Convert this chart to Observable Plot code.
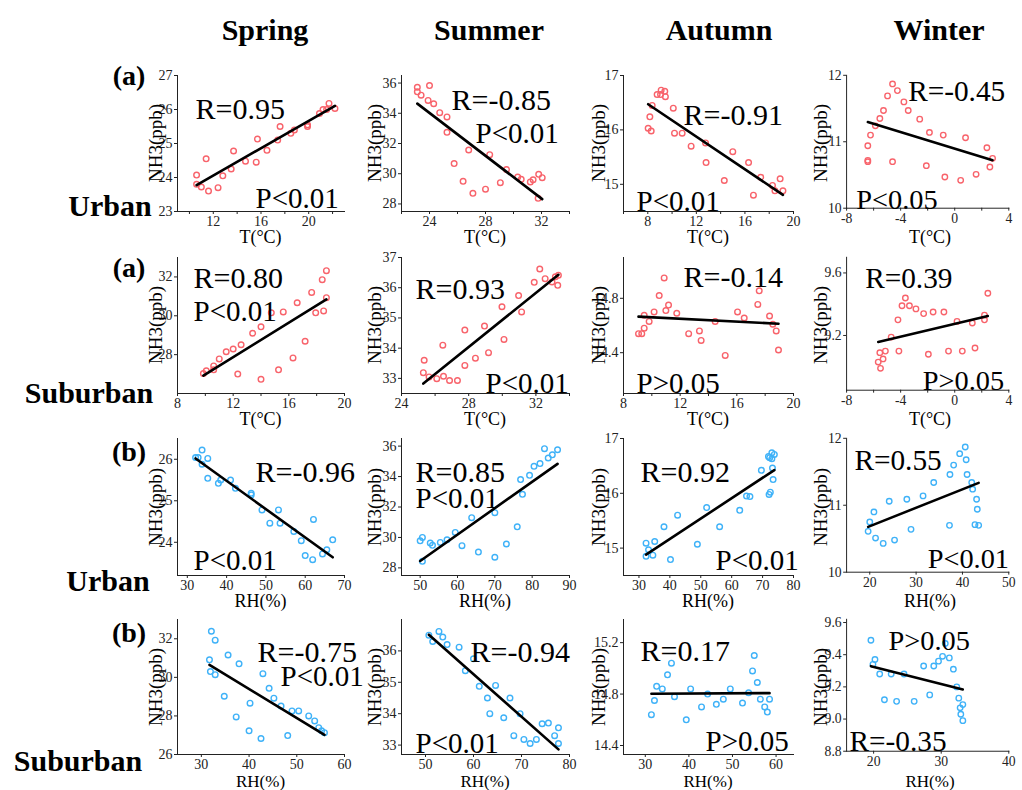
<!DOCTYPE html>
<html><head><meta charset="utf-8">
<script src="https://cdn.jsdelivr.net/npm/d3@7"></script>
<script src="https://cdn.jsdelivr.net/npm/@observablehq/plot@0.6"></script>
<style>
body{margin:0;background:#fff;overflow:hidden;}
#wrap{position:relative;width:1022px;height:790px;overflow:hidden;font-family:"Liberation Serif","Times New Roman",serif;color:#000;}
.lbl{position:absolute;white-space:nowrap;transform:translate(-50%,-50%);line-height:1;}
.plotbox{position:absolute;}
.plotbox svg, .plotbox svg g, .plotbox svg text{font-family:"Liberation Serif","Times New Roman",serif !important;}
</style></head><body><div id="wrap"></div>
<script>
// ---------- text ----------
const seasons = ["Spring", "Summer", "Autumn", "Winter"];
const rowTags = ["(a)", "(a)", "(b)", "(b)"];
const rowSites = ["Urban", "Suburban", "Urban", "Suburban"];
const rowVars = ["T(\u00B0C)", "T(\u00B0C)", "RH(%)", "RH(%)"];
const yLabel = "NH3(ppb)";
const rTexts = ["R=0.95","R=-0.85","R=-0.91","R=-0.45",
                "R=0.80","R=0.93","R=-0.14","R=0.39",
                "R=-0.96","R=0.85","R=0.92","R=0.55",
                "R=-0.75","R=-0.94","R=0.17","R=-0.35"];
const pTexts = ["P<0.01","P<0.01","P<0.01","P<0.05",
                "P<0.01","P<0.01","P>0.05","P>0.05",
                "P<0.01","P<0.01","P<0.01","P<0.01",
                "P<0.01","P<0.01","P>0.05","P>0.05"];

// ---------- data: Urban, T ----------
const uSprT_x = [10.6,10.6,11.0,11.4,11.6,12.4,12.8,13.5,13.7,14.7,15.6,15.7,16.5,17.4,17.6,18.5,18.8,19.9,19.9,20.9,21.2,21.7,22.2,21.5];
const uSprT_y = [24.07,23.8,23.72,24.55,23.6,23.7,24.05,24.25,24.78,24.48,24.45,25.13,24.8,25.1,25.5,25.3,25.4,25.5,25.55,25.88,26.0,26.18,26.03,26.0];
const uSumT_x = [23.13,23.13,23.4,24.0,23.9,24.3,24.73,25.25,25.25,25.76,26.4,26.8,27.1,28.0,28.3,29.06,29.5,30.3,30.55,31.2,31.4,31.8,32.05,31.76];
const uSumT_y = [35.72,35.42,35.2,35.83,34.85,34.63,34.04,33.76,32.74,30.67,29.5,31.57,28.7,28.98,31.26,29.41,30.28,29.78,29.63,29.46,29.6,29.96,29.74,28.37];
const uAutT_x = [8.36,8.17,8.03,8.28,8.77,9.1,9.05,9.4,9.45,10.1,10.2,10.83,11.57,12.76,12.8,14.3,15.0,16.3,16.7,17.3,18.27,18.47,18.9,19.13];
const uAutT_y = [16.45,16.24,16.03,15.98,16.65,16.73,16.65,16.71,16.61,16.4,15.94,15.94,15.7,15.76,15.4,15.07,15.6,15.4,14.8,15.13,14.98,14.88,15.1,14.88];
const uWinT_x = [-4.6,-4.24,-4.97,-3.76,-5.27,-3.44,-5.54,-2.59,-5.87,-6.23,-1.87,-0.85,0.8,-6.43,-6.43,-6.43,-4.6,-2.1,-0.73,0.44,1.58,2.38,2.6,2.8];
const uWinT_y = [11.87,11.77,11.69,11.6,11.47,11.47,11.35,11.34,11.24,11.1,11.14,11.1,11.06,10.94,10.72,10.7,10.7,10.64,10.47,10.42,10.51,10.91,10.62,10.75];
// ---------- data: Suburban, T ----------
const sSprT_x = [9.86,10.07,10.6,10.6,11.0,11.5,12.0,12.57,12.33,13.4,14.0,14.0,14.74,15.26,15.6,16.3,16.6,17.17,17.64,17.93,18.4,18.5,18.7,18.7];
const sSprT_y = [27.03,27.17,27.42,27.22,27.78,28.15,28.29,28.51,27.0,29.1,29.43,26.73,30.15,27.22,30.2,27.83,30.67,28.69,31.2,30.15,31.86,30.25,32.32,30.93];
const sSumT_x = [25.35,25.3,25.64,26.1,26.46,26.5,26.86,27.33,27.77,27.77,28.4,28.94,29.18,29.98,30.1,30.97,31.15,31.9,32.23,32.55,32.96,33.16,33.34,33.3];
const sSumT_y = [33.6,33.19,33.05,32.99,34.1,33.07,32.93,32.93,33.43,34.6,33.67,34.73,33.85,35.37,34.29,35.74,35.2,36.18,36.62,36.3,36.19,36.36,36.41,36.08];
const sAutT_x = [9.06,9.29,9.46,9.46,9.81,10.16,10.52,10.87,10.99,11.18,11.76,12.6,13.36,13.48,14.47,15.18,16.05,16.52,17.48,17.58,18.31,18.54,18.78,18.94];
const sAutT_y = [14.54,14.54,14.58,14.675,14.63,14.70,14.82,14.95,14.71,14.75,14.69,14.54,14.56,14.49,14.63,14.38,14.70,14.655,14.755,14.855,14.67,14.61,14.56,14.42];
const sWinT_x = [-5.66,-5.49,-5.54,-5.3,-5.13,-4.7,-4.2,-4.13,-3.9,-3.65,-3.35,-2.87,-2.3,-1.95,-1.6,-0.8,-0.46,0.17,0.56,1.3,1.5,2.2,2.2,2.45];
const sWinT_y = [9.03,8.99,9.09,9.05,9.10,9.19,9.30,9.10,9.39,9.44,9.39,9.37,9.34,9.08,9.35,9.35,9.10,9.29,9.10,9.28,9.12,9.33,9.30,9.47];
// ---------- data: Urban, RH ----------
const uSprRH_x = [32.1,32.75,33.75,33.75,35.2,35.2,37.9,38.5,41.0,42.25,46.25,46.25,49.0,51.0,53.2,53.6,57.1,59.0,60.0,62.1,61.9,64.4,65.5,67.0];
const uSprRH_y = [26.04,26.04,26.22,25.88,26.02,25.54,25.42,25.5,25.5,25.3,25.14,25.18,24.78,24.46,24.78,24.46,24.26,24.04,23.68,24.55,23.58,23.72,23.82,24.06];
const uSumRH_x = [50.0,50.6,50.6,52.7,53.3,55.4,57.2,59.4,61.2,63.8,65.6,70.0,70.0,73.1,76.0,76.9,77.4,79.3,80.5,82.1,83.3,84.3,85.4,86.8];
const uSumRH_y = [29.78,30.0,28.43,29.63,29.48,29.67,29.85,30.33,29.46,31.3,29.04,31.63,28.7,29.57,30.7,33.8,32.83,34.08,34.67,34.85,35.83,35.22,35.43,35.76];
const uAutRH_x = [32.3,32.3,33.1,34.5,35.1,38.1,40.2,42.5,48.9,51.9,56.1,62.6,64.8,65.9,69.6,71.9,72.3,73.0,73.0,73.8,73.2,73.4,72.5,72.1];
const uAutRH_y = [15.09,14.85,14.97,14.87,15.12,15.39,14.79,15.6,15.07,15.74,15.39,15.69,15.95,15.94,16.42,16.67,16.65,16.63,16.74,16.71,16.46,16.25,16.02,15.98];
const uWinRH_x = [19.65,20.0,20.9,21.25,22.9,24.2,25.35,28.0,28.9,31.5,33.8,37.2,37.3,38.1,39.4,40.6,40.8,41.0,42.0,42.2,42.7,43.05,43.2,43.5];
const uWinRH_y = [10.61,10.75,10.9,10.51,10.43,11.06,10.48,11.09,10.64,11.14,11.34,10.7,11.46,11.6,11.77,11.87,11.68,11.46,11.34,11.24,10.71,11.09,10.94,10.7];
// ---------- data: Suburban, RH ----------
const sSprRH_x = [32.1,32.9,31.7,31.9,32.9,35.6,34.8,37.3,37.9,40.2,40.0,42.5,42.9,44.2,45.2,46.7,48.1,49.0,50.4,52.5,53.75,54.6,55.2,55.8];
const sSprRH_y = [32.39,31.93,30.91,30.3,30.14,31.16,29.02,27.95,30.7,28.66,27.23,26.83,30.19,29.43,28.92,28.51,26.98,28.26,28.26,28.0,27.74,27.39,27.23,27.13];
const sSumRH_x = [50.7,51.5,52.8,53.6,54.5,57.0,58.3,60.0,61.2,62.9,63.4,64.6,66.3,67.6,68.4,69.7,70.5,71.8,73.1,74.3,75.6,76.9,77.7,77.7];
const sSumRH_y = [36.5,36.3,36.62,36.44,36.2,36.12,35.37,35.75,34.87,34.5,34.0,34.9,33.87,34.5,33.3,34.0,33.18,33.05,33.18,33.68,33.7,33.3,33.05,33.55];
const sAutRH_x = [31.4,32.1,32.6,33.9,35.1,36.0,36.7,39.4,40.4,42.9,44.3,46.3,47.9,49.5,52.3,53.7,54.6,55.0,55.7,56.4,57.4,58.0,58.5];
const sAutRH_y = [14.64,14.75,14.86,14.84,14.95,15.04,14.78,14.6,14.84,14.7,14.8,14.72,14.76,14.84,14.73,14.81,14.98,15.1,14.89,14.76,14.7,14.66,14.76];
const sWinRH_x = [19.6,19.9,20.2,20.9,21.6,22.6,23.4,24.5,26.0,27.4,28.3,28.9,29.6,30.2,30.6,31.2,31.8,32.3,32.6,32.8,32.9,33.2,33.2];
const sWinRH_y = [9.49,9.34,9.37,9.28,9.12,9.28,9.11,9.28,9.11,9.33,9.15,9.33,9.36,9.39,9.47,9.38,9.31,9.2,9.13,9.07,9.03,8.99,9.09];

// ---------- axis ranges and ticks ----------
const xDomains = [[9,23],[22,34],[6,20],[-8,4],
                  [8,20],[24,34],[8,20],[-8,4],
                  [27.5,70],[45,90],[25,80],[15,50],
                  [25,60],[45,80],[25,64],[16,40]];
const xTickLabels = [[12,16,20],[24,28,32],[8,12,16,20],[-8,-4,0,4],
                     [8,12,16,20],[24,28,32],[8,12,16,20],[-8,-4,0,4],
                     [30,40,50,60,70],[50,60,70,80,90],[30,40,50,60,70,80],[20,30,40,50],
                     [30,40,50,60],[50,60,70,80],[30,40,50,60],[20,30,40]];
const yDomains = [[23,27],[27.5,36.5],[14.5,17],[10,12],
                  [26,33],[32.5,37],[14.1,15.1],[8.85,9.7],
                  [23.2,26.5],[27.5,36.5],[14.5,17],[10,12],
                  [26,33],[32.7,37],[14.33,15.38],[8.8,9.62]];
const yTickLabels = [[23,24,25,26,27],[28,30,32,34,36],[15,16,17],[10,11,12],
                     [28,30,32],[33,34,35,36,37],[14.4,14.8],[9.2,9.6],
                     [24,25,26],[28,30,32,34,36],[15,16,17],[10,11,12],
                     [26,28,30,32],[33,34,35,36],[14.4,14.8,15.2],[8.8,9.0,9.2,9.4,9.6]];

const series = [
  [uSprT_x,uSprT_y],[uSumT_x,uSumT_y],[uAutT_x,uAutT_y],[uWinT_x,uWinT_y],
  [sSprT_x,sSprT_y],[sSumT_x,sSumT_y],[sAutT_x,sAutT_y],[sWinT_x,sWinT_y],
  [uSprRH_x,uSprRH_y],[uSumRH_x,uSumRH_y],[uAutRH_x,uAutRH_y],[uWinRH_x,uWinRH_y],
  [sSprRH_x,sSprRH_y],[sSumRH_x,sSumRH_y],[sAutRH_x,sAutRH_y],[sWinRH_x,sWinRH_y]
];

// ---------- layout (pixels) ----------
const colX = [[177,344],[401,569],[623,793],[847,1013]];
const rowY = [[75,211],[257,393],[438,575],[619,754]];
const rOffsets = [[18,22],[50,13],[60,28],[63,5],[16,9],[14,20],[60,8],[19,10],[78,22],[14,22],[17,22],[8,11],[80,21],[69,21],[17,20],[3,113]];
const pOffsets = [[78,112],[74,47],[13,115],[10,116],[16,43],[84,115],[13,115],[78,115],[16,111],[14,49],[92,111],[83,112],[103,46],[14,113],[82,111],[43,11]];
const yLabelX = [155,374,598,820];
const xLabelDY = [26, 26, 26, 27];
const RED = "#f8636b", BLUE = "#3fb2f8";
const ML = 40, MR = 14, MT = 8, MB = 24;

const wrap = document.getElementById("wrap");
function addLabel(text, x, y, css, rotate) {
  const d = document.createElement("div");
  d.className = "lbl";
  d.textContent = text;
  d.style.left = x + "px"; d.style.top = y + "px";
  Object.assign(d.style, css);
  if (rotate) d.style.transform = "translate(-50%,-50%) rotate(-90deg)";
  wrap.appendChild(d);
}

for (let i = 0; i < 16; i++) {
  const row = Math.floor(i / 4), col = i % 4;
  const [x0, x1] = colX[col], [y0, y1] = rowY[row];
  const w = x1 - x0, h = y1 - y0;
  const isT = row < 2;
  const labels = xTickLabels[i];
  const xt = isT ? d3.range(xDomains[i][0] + (xDomains[i][0] % 2 === 0 ? 0 : 1), xDomains[i][1] + 0.001, 2) : labels;
  const data = series[i][0].map((v, k) => ({x: v, y: series[i][1][k]}));
  const yFmt = i === 15 ? d3.format(".1f") : (d => String(d));
  const chart = Plot.plot({
    width: w + ML + MR, height: h + MT + MB,
    marginLeft: ML, marginRight: MR, marginTop: MT, marginBottom: MB,
    style: {background: "transparent", fontSize: "14px", color: "#222", overflow: "visible"},
    x: {domain: xDomains[i], ticks: xt, tickFormat: d => labels.includes(d) ? String(d) : "", tickSize: 3, tickPadding: 2, line: true, label: null},
    y: {domain: yDomains[i], ticks: yTickLabels[i], tickFormat: yFmt, tickSize: 3, tickPadding: 2, line: true, label: null},
    marks: [
      Plot.dot(data, {x: "x", y: "y", r: 2.8, stroke: isT ? RED : BLUE, strokeWidth: 1.4, fill: "none"}),
      Plot.linearRegressionY(data, {x: "x", y: "y", stroke: "black", strokeWidth: 2.6, ci: 0}),
      Plot.text([rTexts[i]], {text: d => d, frameAnchor: "top-left", dx: rOffsets[i][0], dy: rOffsets[i][1], textAnchor: "start", fontSize: 30, fill: "black"}),
      Plot.text([pTexts[i]], {text: d => d, frameAnchor: "top-left", dx: pOffsets[i][0], dy: pOffsets[i][1], textAnchor: "start", fontSize: 29, fill: "black"})
    ]
  });
  const box = document.createElement("div");
  box.className = "plotbox";
  box.style.left = (x0 - ML) + "px";
  box.style.top = (y0 - MT) + "px";
  box.appendChild(chart);
  wrap.appendChild(box);

  addLabel(yLabel, yLabelX[col], (y0 + y1) / 2, {fontSize: "19px"}, true);
  addLabel(rowVars[row], (x0 + x1) / 2, y1 + xLabelDY[row], {fontSize: row === 3 ? "17px" : "18px"});
}

const titleX = [265, 489, 719, 939];
seasons.forEach((s, c) => addLabel(s, titleX[c], 30, {fontSize: "30px", fontWeight: "bold"}));
const tagY = [76, 268, 452, 633];
rowTags.forEach((t, r) => addLabel(t, 129, tagY[r], {fontSize: "28px", fontWeight: "bold"}));
const siteX = [110, 89, 108, 78], siteY = [206, 393, 581, 761];
rowSites.forEach((t, r) => addLabel(t, siteX[r], siteY[r], {fontSize: "30px", fontWeight: "bold"}));
</script></body></html>
